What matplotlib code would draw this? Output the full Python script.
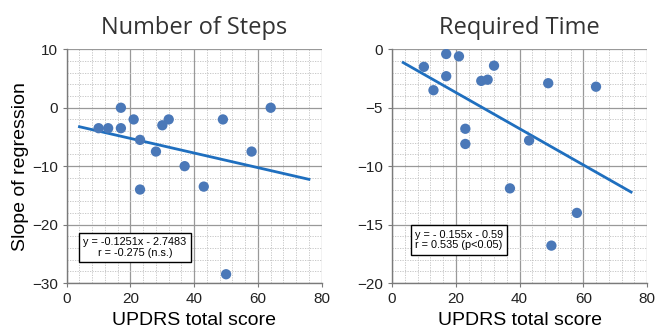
import numpy as np
import matplotlib
matplotlib.use("Agg")
import matplotlib.pyplot as plt
from matplotlib.ticker import MultipleLocator

# data
updrs = [10, 13, 17, 17, 21, 23, 23, 28, 30, 32, 37, 43, 49, 50, 58, 64]
steps_slope = [-3.5, -3.5, 0, -3.5, -2, -5.5, -14, -7.5, -3, -2, -10, -13.5, -2, -28.5, -7.5, 0]

updrs_t = [10, 13, 17, 17, 21, 23, 23, 28, 30, 32, 37, 43, 49, 50, 58, 64]
time_slope = [-1.5, -3.5, -0.4, -2.3, -0.6, -6.8, -8.1, -2.7, -2.6, -1.4, -11.9, -7.8, -2.9, -16.8, -14.0, -3.2]

# regression lines (slope, intercept) and the x range they are drawn over
steps_fit = (-0.1251, -2.7483)
steps_fit_x = [4, 76]
time_fit = (-0.155, -0.59)
time_fit_x = [3.5, 75]

titles = ["Number of Steps", "Required Time"]
eq_texts = ["y = -0.1251x - 2.7483\nr = -0.275 (n.s.)",
            "y = - 0.155x - 0.59\nr = 0.535 (p<0.05)"]

dot_col = "#4A78B8"
line_col = "#1F6FBF"
tick_font = "Liberation Sans"
title_font = "Open Sans"

fig = plt.figure(figsize=(6.56, 3.36), dpi=100)
ax1 = fig.add_axes([0.1017, 0.1577, 0.3887, 0.6955])
ax2 = fig.add_axes([0.5976, 0.1577, 0.3887, 0.6955])


def style_axes(ax, ylim, ymajor, yminor):
    ax.set_xlim(0, 80)
    ax.set_ylim(*ylim)
    ax.xaxis.set_major_locator(MultipleLocator(20))
    ax.xaxis.set_minor_locator(MultipleLocator(4))
    ax.yaxis.set_major_locator(MultipleLocator(ymajor))
    ax.yaxis.set_minor_locator(MultipleLocator(yminor))
    ax.grid(which="major", color="#999999", lw=0.9)
    ax.grid(which="minor", color="#c0c0c0", lw=0.6, ls=(0, (1.5, 1.5)))
    ax.set_axisbelow(True)
    for s in ["top", "right"]:
        ax.spines[s].set_visible(False)
    for s in ["left", "bottom"]:
        ax.spines[s].set_color("#7a7a7a")
        ax.spines[s].set_linewidth(1.0)
    ax.tick_params(which="major", length=3, color="#7a7a7a", labelsize=11,
                   labelcolor="#222222")
    ax.tick_params(which="minor", length=0)
    for lab in ax.get_xticklabels() + ax.get_yticklabels():
        lab.set_fontfamily(tick_font)
    ax.set_xlabel("UPDRS total score", fontsize=14, family=tick_font, labelpad=4)


def box_text(ax, x, y, s, ha):
    ax.text(x, y, s, transform=ax.transAxes, ha=ha, va="center", multialignment=ha,
            fontsize=7.8, family=tick_font, linespacing=1.1,
            bbox=dict(boxstyle="square,pad=0.4", fc="white", ec="black", lw=1))


# left panel
style_axes(ax1, (-30, 10), 10, 2)
ax1.scatter(updrs, steps_slope, s=55, color=dot_col, zorder=3, edgecolors="none")
fx = np.array(steps_fit_x)
ax1.plot(fx, steps_fit[0] * fx + steps_fit[1], color=line_col, lw=2, zorder=2)
ax1.set_title(titles[0], fontsize=17, family=title_font, color="#333333", pad=11)
ax1.set_ylabel("Slope of regression", fontsize=14, family=tick_font, labelpad=2)
box_text(ax1, 0.268, 0.152, eq_texts[0], "center")

# right panel
style_axes(ax2, (-20, 0), 5, 1)
ax2.scatter(updrs_t, time_slope, s=55, color=dot_col, zorder=3, edgecolors="none")
fx = np.array(time_fit_x)
ax2.plot(fx, time_fit[0] * fx + time_fit[1], color=line_col, lw=2, zorder=2)
ax2.set_title(titles[1], fontsize=17, family=title_font, color="#333333", pad=11)
box_text(ax2, 0.09, 0.184, eq_texts[1], "left")

fig.savefig("out.png", dpi=100)
